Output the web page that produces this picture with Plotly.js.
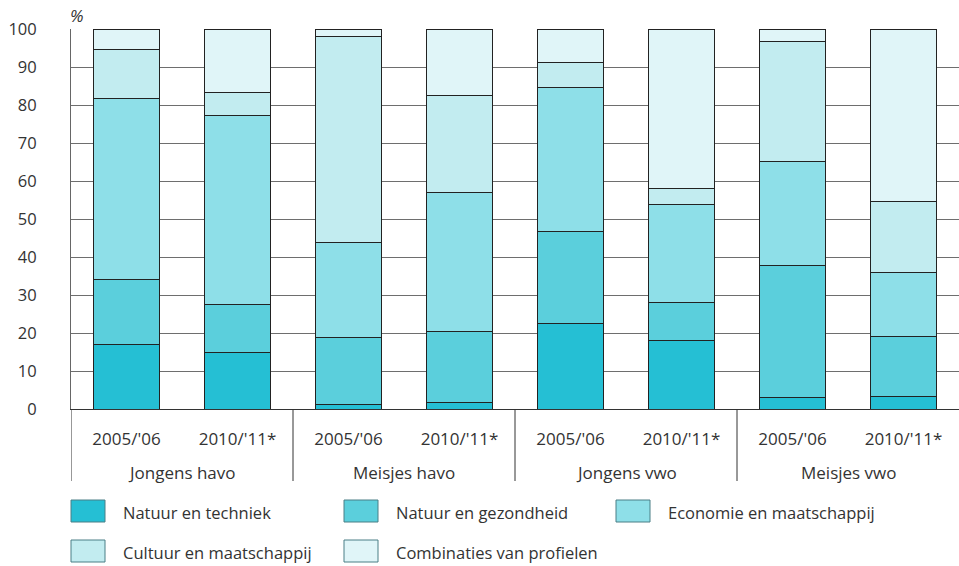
<!DOCTYPE html>
<html>
<head>
<meta charset="utf-8">
<script src="https://cdn.plot.ly/plotly-3.0.1.min.js"></script>
<style>html,body{margin:0;padding:0;background:#fff;}#chart{width:959px;height:566px;}</style>
</head>
<body>
<div id="chart"></div>
<script>
var groups = ["Jongens havo","Jongens havo","Meisjes havo","Meisjes havo","Jongens vwo","Jongens vwo","Meisjes vwo","Meisjes vwo"];
var years = ["2005/'06","2010/'11*","2005/'06","2010/'11*","2005/'06","2010/'11*","2005/'06","2010/'11*"];
var seriesNames = ["Natuur en techniek","Natuur en gezondheid","Economie en maatschappij","Cultuur en maatschappij","Combinaties van profielen"];
var natuurTechniek = [17.1, 14.9, 1.2, 1.7, 22.5, 18.0, 3.0, 3.3];
var natuurGezondheid = [17.0, 12.6, 17.55, 18.8, 24.3, 10.1, 34.7, 15.9];
var economieMaatschappij = [47.5, 49.8, 25.05, 36.5, 37.7, 25.6, 27.5, 16.7];
var cultuurMaatschappij = [13.05, 5.9, 54.3, 25.4, 6.6, 4.3, 31.5, 18.6];
var combinaties = [5.35, 16.8, 1.9, 17.6, 8.9, 42.0, 3.3, 45.5];
var yTickVals = [0,10,20,30,40,50,60,70,80,90,100];

var seriesValues = [natuurTechniek, natuurGezondheid, economieMaatschappij, cultuurMaatschappij, combinaties];
var colors = ["#25BFD4","#5BCFDC","#8EDFE8","#C2ECF0","#E0F5F8"];
var FONT = "Open Sans, sans-serif";
var TXT = "#333333";

// unique category keys (group + year), labelled by year on the axis
var keys = groups.map(function(g, i){ return g + " " + years[i]; });

var traces = seriesValues.map(function(v, i){
  return {
    type: "bar",
    name: seriesNames[i],
    x: keys,
    y: v,
    marker: {color: colors[i], line: {color: "#222222", width: 1}},
    showlegend: false,
    hoverinfo: "none"
  };
});

// plot area in pixels
var W = 959, H = 566, L = 71, R = 0, T = 29, B = 157;
var pw = W - L - R, ph = H - T - B;
function px2x(px){ return (px - L) / pw; }
function py2y(py){ return (H - B - py) / ph; }

var shapes = [], annotations = [];

// group labels and dividers from the groups array
var uniqueGroups = [];
groups.forEach(function(g){ if (uniqueGroups.indexOf(g) < 0) uniqueGroups.push(g); });
uniqueGroups.forEach(function(g){
  var idx = [];
  groups.forEach(function(gg, i){ if (gg === g) idx.push(i); });
  var first = idx[0], last = idx[idx.length - 1];
  annotations.push({
    xref: "x", yref: "paper", x: (first + last) / 2, y: py2y(472),
    xanchor: "center", yanchor: "middle", showarrow: false,
    text: g, font: {family: FONT, size: 17, color: TXT}
  });
  shapes.push({
    type: "line", xref: "x", yref: "paper",
    x0: first - 0.5, x1: first - 0.5, y0: 0, y1: py2y(481),
    line: {color: "#333333", width: 1}
  });
});

// custom legend (large swatches)
var legendCols = [71, 344, 616];
var legendRows = [511, 551];
seriesNames.forEach(function(name, i){
  var col = i % 3, row = Math.floor(i / 3);
  var x0 = legendCols[col], yc = legendRows[row];
  shapes.push({
    type: "rect", xref: "paper", yref: "paper",
    x0: px2x(x0), x1: px2x(x0 + 34), y0: py2y(yc - 11), y1: py2y(yc + 11),
    fillcolor: colors[i], line: {color: "#4a7f86", width: 1}
  });
  annotations.push({
    xref: "paper", yref: "paper", x: px2x(x0 + 50), y: py2y(yc + 1),
    xanchor: "left", yanchor: "middle", showarrow: false,
    text: name, font: {family: FONT, size: 16.5, color: TXT}
  });
});
annotations.push({
  xref: "paper", yref: "paper", x: px2x(68), y: py2y(15),
  xanchor: "left", yanchor: "middle", showarrow: false,
  text: "<i>%</i>", font: {family: FONT, size: 17, color: TXT}
});

var layout = {
  width: W, height: H,
  margin: {l: L, r: R, t: T, b: B, pad: 0},
  paper_bgcolor: "#ffffff", plot_bgcolor: "#ffffff",
  barmode: "stack", bargap: 0.4,
  font: {family: FONT, size: 16.5, color: TXT},
  showlegend: false,
  xaxis: {
    type: "category", range: [-0.5, keys.length - 0.5],
    tickvals: keys, ticktext: years,
    showline: true, linecolor: "#333333", linewidth: 1,
    showgrid: false, ticks: "", ticklabelstandoff: 15,
    tickfont: {family: FONT, size: 17, color: TXT},
    fixedrange: true
  },
  yaxis: {
    range: [0, 100], tickvals: yTickVals, ticktext: yTickVals.map(String),
    showgrid: true, gridcolor: "#6e6e6e", gridwidth: 1,
    showline: true, linecolor: "#666666", linewidth: 1,
    zeroline: false, ticks: "", ticklabelstandoff: 30,
    tickfont: {family: FONT, size: 16.5, color: TXT},
    fixedrange: true
  },
  shapes: shapes,
  annotations: annotations
};

Plotly.newPlot("chart", traces, layout, {staticPlot: true, displayModeBar: false});
</script>
</body>
</html>
